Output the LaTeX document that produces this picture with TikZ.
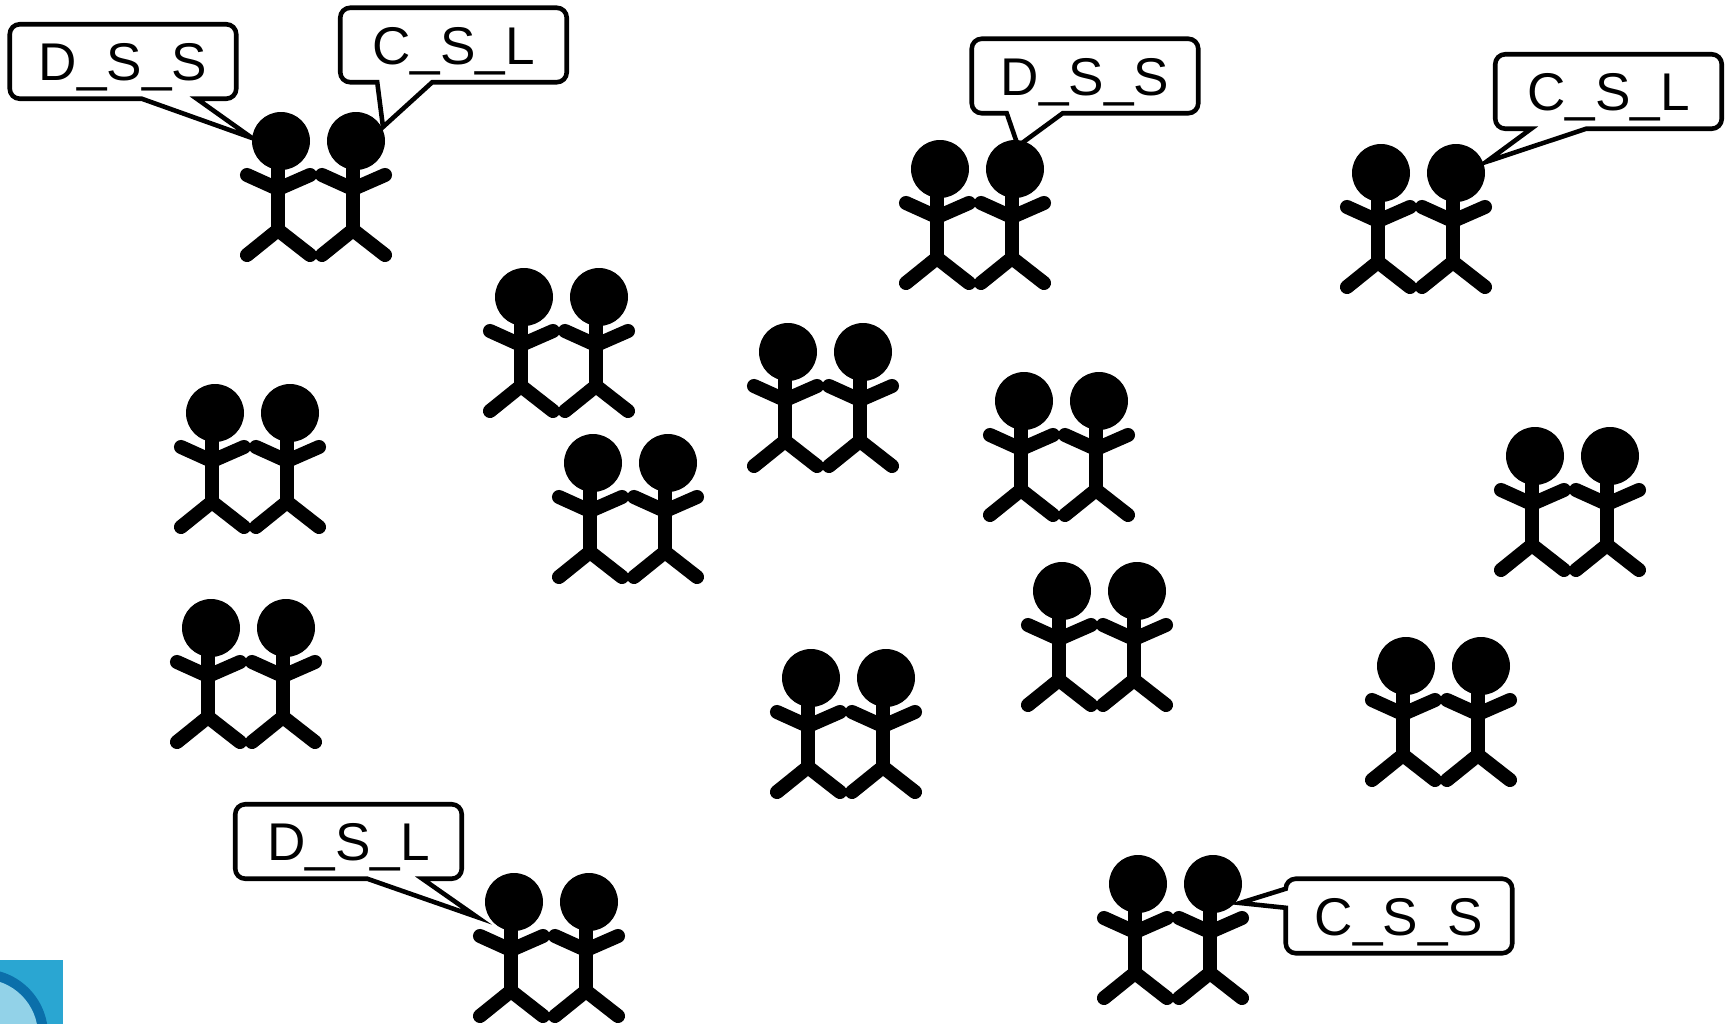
\documentclass[tikz,border=0pt]{standalone}
\usepackage{fontspec}
\setmainfont{Liberation Sans}
\usetikzlibrary{calc}
\definecolor{iconblue}{HTML}{2AA6D2}
\definecolor{icondark}{HTML}{0B6FAA}
\definecolor{iconlight}{HTML}{92D2E8}
\begin{document}
\begin{tikzpicture}[x=0.01cm, y=-0.01cm,
  limb/.style={line width=4pt, line cap=round, line join=round},
  bubble/.style={minimum width=2.25cm, minimum height=0.73cm, inner sep=0pt,
    text height=0.38cm, text depth=0pt, font=\fontsize{15.1pt}{18pt}\selectfont},
  bubbleline/.style={draw, line width=1.3pt, line join=miter},
  pics/stickman/.style={code={
    \draw[limb] (-34,34) -- (-3,48) -- (29,34);
    \draw[limb] (-3,0) -- (-3,89);
    \draw[limb] (-34,114) -- (-3,89) -- (29,114);
    \fill (0,0) circle[radius=29];
  }},
  pics/couple/.style={code={
    \pic {stickman};
    \pic at (75,0) {stickman};
  }},
]
\useasboundingbox (0,0) rectangle (1735,1024);
\fill[white] (0,0) rectangle (1735,1024);

% outline of a speech bubble whose tail leaves the bottom edge:
% #1 node, #2/#3 offsets of the tail base from the left side, #4 tip
\newcommand\bottomtail[4]{%
  \draw[bubbleline] ($(#1.south west)+(#2,0)$) -- ($(#1.south west)+(10,0)$)
    arc[start angle=90, end angle=180, radius=10]
    -- ($(#1.north west)+(0,10)$) arc[start angle=180, end angle=270, radius=10]
    -- ($(#1.north east)+(-10,0)$) arc[start angle=270, end angle=360, radius=10]
    -- ($(#1.south east)+(0,-10)$) arc[start angle=0, end angle=90, radius=10]
    -- ($(#1.south west)+(#3,0)$) -- (#4) -- cycle;
}
% outline of a speech bubble whose tail leaves the left edge:
% #1 node, #2 offset of the lower tail base from the top, #3 tip
\newcommand\lefttail[3]{%
  \draw[bubbleline] ($(#1.north west)+(0,#2)$) -- ($(#1.south west)+(0,-10)$)
    arc[start angle=180, end angle=90, radius=10]
    -- ($(#1.south east)+(-10,0)$) arc[start angle=90, end angle=0, radius=10]
    -- ($(#1.north east)+(0,10)$) arc[start angle=0, end angle=-90, radius=10]
    -- ($(#1.north west)+(10,0)$) arc[start angle=270, end angle=180, radius=10]
    -- (#3) -- cycle;
}

% pairs of stick figures (left head centre)
\pic at (281,141) {couple};
\pic at (940,169) {couple};
\pic at (1381,173) {couple};
\pic at (524,297) {couple};
\pic at (788,352) {couple};
\pic at (215,413) {couple};
\pic at (593,463) {couple};
\pic at (1024,401) {couple};
\pic at (1535,456) {couple};
\pic at (211,628) {couple};
\pic at (1062,591) {couple};
\pic at (811,678) {couple};
\pic at (1406,666) {couple};
\pic at (514,902) {couple};
\pic at (1138,884) {couple};

% speech bubbles
\node[bubble] (b1) at (123,61.5) {D\_S\_S};
\coordinate (b1tip) at (252,138);
\bottomtail{b1}{132}{187}{b1tip}

\node[bubble] (b2) at (453.5,45) {C\_S\_L};
\coordinate (b2tip) at (383,127);
\bottomtail{b2}{37}{92}{b2tip}

\node[bubble] (b3) at (1085,76) {D\_S\_S};
\coordinate (b3tip) at (1018,146);
\bottomtail{b3}{35}{91}{b3tip}

\node[bubble] (b4) at (1608.5,91.5) {C\_S\_L};
\coordinate (b4tip) at (1486,162);
\bottomtail{b4}{36}{91}{b4tip}

\node[bubble] (b5) at (348.5,841.5) {D\_S\_L};
\coordinate (b5tip) at (477,917);
\bottomtail{b5}{132}{187}{b5tip}

\node[bubble] (b6) at (1399,916) {C\_S\_S};
\coordinate (b6tip) at (1240,903);
\lefttail{b6}{29}{b6tip}

% partly visible round logo in the corner
\begin{scope}
  \clip (0,960) rectangle (63,1024);
  \fill[iconblue] (0,960) rectangle (63,1024);
  \fill[icondark] (-18,1035) circle[radius=66];
  \fill[iconlight] (-18,1035) circle[radius=56];
\end{scope}
\end{tikzpicture}
\end{document}
